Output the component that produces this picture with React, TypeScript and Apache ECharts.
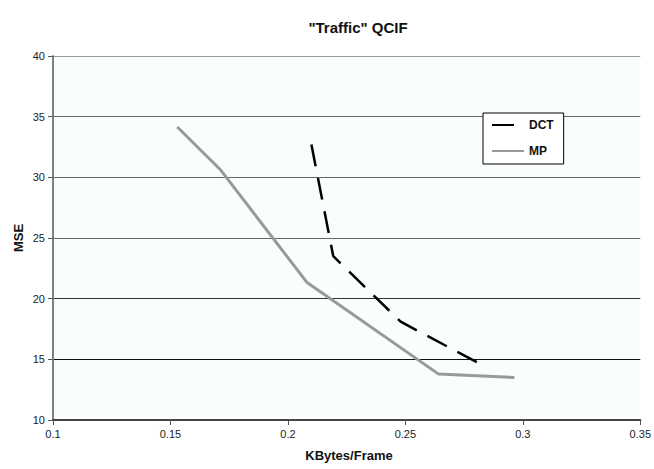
import React, { useEffect, useRef } from "react";
import * as echarts from "echarts";

const xTicks = [0.1, 0.15, 0.2, 0.25, 0.3, 0.35];
const yTicks = [10, 15, 20, 25, 30, 35, 40];
const dctX = [0.21, 0.2193, 0.248, 0.282];
const dctY = [32.7, 23.5, 18.1, 14.6];
const mpX = [0.1529, 0.1714, 0.208, 0.264, 0.2964];
const mpY = [34.15, 30.6, 21.36, 13.8, 13.5];

const FONT = "'Liberation Sans', Arial, sans-serif";

export default function App() {
  const ref = useRef<HTMLDivElement>(null);
  useEffect(() => {
    document.body.style.margin = "0";
    const chart = echarts.init(ref.current!, null, { renderer: "svg" });
    chart.setOption({
      animation: false,
      backgroundColor: "#ffffff",
      textStyle: { fontFamily: FONT },
      grid: {
        left: 53,
        right: 10,
        top: 56,
        bottom: 49,
        show: true,
        backgroundColor: "#FAFDFE",
        borderWidth: 0,
      },
      xAxis: {
        type: "value",
        min: xTicks[0],
        max: xTicks[xTicks.length - 1],
        interval: 0.05,
        axisLine: { show: true, lineStyle: { color: "#444", width: 2 } },
        axisTick: { show: true, length: 5, lineStyle: { color: "#555" } },
        axisLabel: {
          color: "#222",
          fontSize: 11,
          fontFamily: FONT,
          margin: 8,
          formatter: (v: number) => String(parseFloat(v.toFixed(2))),
        },
        splitLine: { show: false },
      },
      yAxis: {
        type: "value",
        min: yTicks[0],
        max: yTicks[yTicks.length - 1],
        interval: 5,
        axisLine: { show: true, lineStyle: { color: "#808080", width: 2 } },
        axisTick: { show: true, length: 5, lineStyle: { color: "#555" } },
        axisLabel: { color: "#222", fontSize: 11, fontFamily: FONT, margin: 8 },
        splitLine: {
          show: true,
          lineStyle: {
            color: ["#000", "#111", "#333", "#666", "#666", "#666", "#999"],
            width: 1,
          },
        },
      },
      legend: {
        orient: "vertical",
        left: 483,
        top: 113,
        backgroundColor: "#ffffff",
        borderColor: "#000",
        borderWidth: 1,
        borderRadius: 0,
        padding: [6, 10, 7, 8],
        itemWidth: 32,
        itemHeight: 14,
        itemGap: 14,
        itemStyle: { color: "transparent", borderColor: "transparent", borderWidth: 0 },
        textStyle: { fontSize: 12, fontWeight: "bold", color: "#111", fontFamily: FONT },
        data: [{ name: "DCT" }, { name: "MP" }],
      },
      graphic: [
        {
          type: "text",
          x: 358,
          y: 27,
          style: {
            text: '"Traffic" QCIF',
            font: `bold 15px ${FONT}`,
            fill: "#111",
            textAlign: "center",
            textVerticalAlign: "middle",
          },
        },
        {
          type: "text",
          x: 18,
          y: 238,
          rotation: Math.PI / 2,
          style: {
            text: "MSE",
            font: `bold 13px ${FONT}`,
            fill: "#111",
            textAlign: "center",
            textVerticalAlign: "middle",
          },
        },
        {
          type: "text",
          x: 349,
          y: 455,
          style: {
            text: "KBytes/Frame",
            font: `bold 13px ${FONT}`,
            fill: "#111",
            textAlign: "center",
            textVerticalAlign: "middle",
          },
        },
      ],
      series: [
        {
          name: "DCT",
          type: "line",
          data: dctX.map((x, i) => [x, dctY[i]]),
          symbol: "none",
          lineStyle: { color: "#000", width: 2.5, type: [22, 12] },
          itemStyle: { color: "#000" },
          z: 3,
        },
        {
          name: "MP",
          type: "line",
          data: mpX.map((x, i) => [x, mpY[i]]),
          symbol: "none",
          lineStyle: { color: "#999", width: 3 },
          itemStyle: { color: "#999" },
          z: 2,
        },
      ],
    });
    return () => chart.dispose();
  }, []);
  return <div ref={ref} style={{ width: 654, height: 469 }} />;
}
